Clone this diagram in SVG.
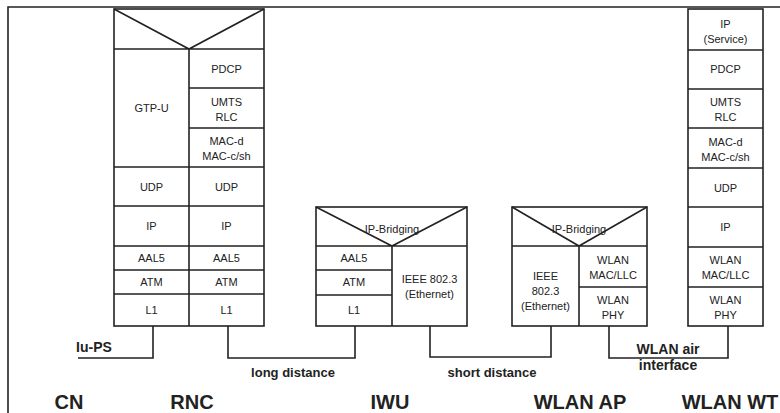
<svg xmlns="http://www.w3.org/2000/svg" width="780" height="413" viewBox="0 0 780 413">
<style>
.b{fill:none;stroke:#222;stroke-width:1.6}
.t{font-family:"Liberation Sans",Arial,sans-serif;font-size:11px;fill:#222;text-anchor:middle}
.c{font-family:"Liberation Sans",Arial,sans-serif;font-size:13px;font-weight:bold;fill:#222;text-anchor:middle}
.n{font-family:"Liberation Sans",Arial,sans-serif;font-size:20px;font-weight:bold;fill:#222;text-anchor:middle}
</style>
<rect width="780" height="413" fill="#fff"/>
<g id="frame"><path class="b" d="M8,413 V7 H780"/></g>
<g id="rnc">
<rect class="b" x="114" y="9" width="150" height="317"/>
<path class="b" d="M114,9 L189,49 L264,9 M114,49 H264 M189,49 V326 M189,88 H264 M189,128 H264 M114,167 H264 M114,206 H264 M114,246 H264 M114,270 H264 M114,294 H264"/>
<text class="t" x="151.5" y="112">GTP-U</text>
<text class="t" x="226.5" y="73">PDCP</text>
<text class="t" x="226.5" y="106">UMTS</text>
<text class="t" x="226.5" y="121">RLC</text>
<text class="t" x="226.5" y="145">MAC-d</text>
<text class="t" x="226.5" y="160">MAC-c/sh</text>
<text class="t" x="151.5" y="191">UDP</text>
<text class="t" x="226.5" y="191">UDP</text>
<text class="t" x="151.5" y="230">IP</text>
<text class="t" x="226.5" y="230">IP</text>
<text class="t" x="151.5" y="262">AAL5</text>
<text class="t" x="226.5" y="262">AAL5</text>
<text class="t" x="151.5" y="286">ATM</text>
<text class="t" x="226.5" y="286">ATM</text>
<text class="t" x="151.5" y="314">L1</text>
<text class="t" x="226.5" y="314">L1</text>
</g>
<g id="iwu">
<rect class="b" x="316" y="207" width="151" height="119"/>
<path class="b" d="M316,207 L392,246 L467,207 M316,246 H467 M392,246 V326 M316,270 H392 M316,295 H392"/>
<text class="t" x="392" y="233">IP-Bridging</text>
<text class="t" x="354" y="262">AAL5</text>
<text class="t" x="354" y="286">ATM</text>
<text class="t" x="354" y="314">L1</text>
<text class="t" x="429.5" y="283">IEEE 802.3</text>
<text class="t" x="429.5" y="298">(Ethernet)</text>
</g>
<g id="wlan-ap">
<rect class="b" x="512" y="207" width="135" height="119"/>
<path class="b" d="M512,207 L579,246 L647,207 M512,246 H647 M579,246 V326 M579,287 H647"/>
<text class="t" x="579" y="233">IP-Bridging</text>
<text class="t" x="545.5" y="280">IEEE</text>
<text class="t" x="545.5" y="295">802.3</text>
<text class="t" x="545.5" y="310">(Ethernet)</text>
<text class="t" x="613" y="264">WLAN</text>
<text class="t" x="613" y="279">MAC/LLC</text>
<text class="t" x="613" y="304">WLAN</text>
<text class="t" x="613" y="319">PHY</text>
</g>
<g id="wlan-wt">
<rect class="b" x="688" y="9" width="75" height="317"/>
<path class="b" d="M688,50 H763 M688,89 H763 M688,128 H763 M688,168 H763 M688,207 H763 M688,247 H763 M688,287 H763"/>
<text class="t" x="725.5" y="28">IP</text>
<text class="t" x="725.5" y="43">(Service)</text>
<text class="t" x="725.5" y="73">PDCP</text>
<text class="t" x="725.5" y="106">UMTS</text>
<text class="t" x="725.5" y="121">RLC</text>
<text class="t" x="725.5" y="146">MAC-d</text>
<text class="t" x="725.5" y="161">MAC-c/sh</text>
<text class="t" x="725.5" y="192">UDP</text>
<text class="t" x="725.5" y="231">IP</text>
<text class="t" x="725.5" y="264">WLAN</text>
<text class="t" x="725.5" y="279">MAC/LLC</text>
<text class="t" x="725.5" y="304">WLAN</text>
<text class="t" x="725.5" y="319">PHY</text>
</g>
<g id="connectors">
<path class="b" d="M153,326 V358 H78"/>
<path class="b" d="M228,326 V358 H355 V326"/>
<path class="b" d="M430,326 V357 H551 V326"/>
<path class="b" d="M609,326 V358 H728 V326"/>
<text class="c" x="94" y="352" style="font-size:14px">Iu-PS</text>
<text class="c" x="293" y="377">long distance</text>
<text class="c" x="492" y="377">short distance</text>
<text class="c" x="668" y="354" style="font-size:14px">WLAN air</text>
<text class="c" x="668" y="370" style="font-size:14px">interface</text>
</g>
<g id="labels">
<text class="n" x="69" y="409">CN</text>
<text class="n" x="192" y="409">RNC</text>
<text class="n" x="390" y="409">IWU</text>
<text class="n" x="580" y="409">WLAN AP</text>
<text class="n" x="730" y="409">WLAN WT</text>
</g>
</svg>
